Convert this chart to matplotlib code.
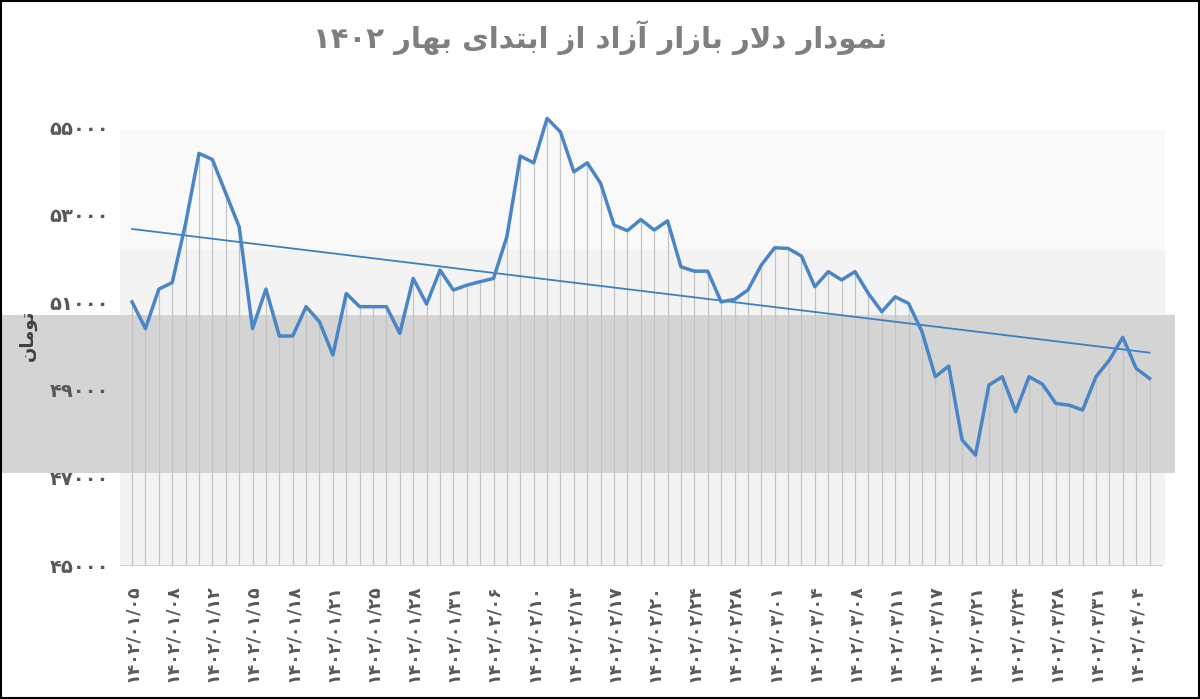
import numpy as np
import matplotlib
matplotlib.use("Agg")
import matplotlib.pyplot as plt
from matplotlib.patches import Rectangle

plt.rcParams['font.family'] = ['DejaVu Sans', 'Noto Sans']

values = [51010, 50400, 51300, 51450, 52800, 54400, 54260, 53490, 52725, 50400,
          51300, 50230, 50230, 50900, 50555, 49795, 51200, 50900, 50900, 50900,
          50290, 51545, 50960, 51735, 51280, 51390, 51470, 51545, 52500, 54340,
          54185, 55200, 54890, 53980, 54185, 53715, 52765, 52635, 52890, 52650,
          52860, 51810, 51710, 51710, 51010, 51065, 51280, 51850, 52245, 52230,
          52055, 51355, 51700, 51510, 51700, 51200, 50785, 51125, 50975, 50330,
          49300, 49545, 47855, 47510, 49110, 49300, 48500, 49300, 49130, 48690,
          48650, 48540, 49300, 49680, 50200, 49490, 49260]
# tick labels (every third point)
tick_labels = ["۱۴۰۲/۰۱/۰۵", "۱۴۰۲/۰۱/۰۸", "۱۴۰۲/۰۱/۱۲", "۱۴۰۲/۰۱/۱۵", "۱۴۰۲/۰۱/۱۸",
               "۱۴۰۲/۰۱/۲۱", "۱۴۰۲/۰۱/۲۵", "۱۴۰۲/۰۱/۲۸", "۱۴۰۲/۰۱/۳۱", "۱۴۰۲/۰۲/۰۶",
               "۱۴۰۲/۰۲/۱۰", "۱۴۰۲/۰۲/۱۳", "۱۴۰۲/۰۲/۱۷", "۱۴۰۲/۰۲/۲۰", "۱۴۰۲/۰۲/۲۴",
               "۱۴۰۲/۰۲/۲۸", "۱۴۰۲/۰۳/۰۱", "۱۴۰۲/۰۳/۰۴", "۱۴۰۲/۰۳/۰۸", "۱۴۰۲/۰۳/۱۱",
               "۱۴۰۲/۰۳/۱۷", "۱۴۰۲/۰۳/۲۱", "۱۴۰۲/۰۳/۲۴", "۱۴۰۲/۰۳/۲۸", "۱۴۰۲/۰۳/۳۱",
               "۱۴۰۲/۰۴/۰۴"]
yticks = [45000, 47000, 49000, 51000, 53000, 55000]
ytick_labels = ["۴۵۰۰۰", "۴۷۰۰۰", "۴۹۰۰۰", "۵۱۰۰۰", "۵۳۰۰۰", "۵۵۰۰۰"]
title_text = "نمودار دلار بازار آزاد از ابتدای بهار ۱۴۰۲"
ylabel_text = "تومان"

# --- minimal Persian shaping for display ---
FORMS = {  # iso, fin, ini, med
    'ا': (0xFE8D, 0xFE8E, None, None), 'آ': (0xFE81, 0xFE82, None, None),
    'ب': (0xFE8F, 0xFE90, 0xFE91, 0xFE92), 'ت': (0xFE95, 0xFE96, 0xFE97, 0xFE98),
    'د': (0xFEA9, 0xFEAA, None, None), 'ر': (0xFEAD, 0xFEAE, None, None),
    'ز': (0xFEAF, 0xFEB0, None, None), 'ل': (0xFEDD, 0xFEDE, 0xFEDF, 0xFEE0),
    'م': (0xFEE1, 0xFEE2, 0xFEE3, 0xFEE4), 'ن': (0xFEE5, 0xFEE6, 0xFEE7, 0xFEE8),
    'ه': (0xFEE9, 0xFEEA, 0xFEEB, 0xFEEC), 'و': (0xFEED, 0xFEEE, None, None),
    'ی': (0xFBFC, 0xFBFD, 0xFBFE, 0xFBFF),
}

def shape_word(w):
    out = []
    chars = list(w)
    i = 0
    prev_joins = False
    while i < len(chars):
        c = chars[i]
        if c not in FORMS:
            out.append(c); prev_joins = False; i += 1; continue
        if c == 'ل' and i + 1 < len(chars) and chars[i + 1] == 'ا':
            out.append(chr(0xFEFC if prev_joins else 0xFEFB))
            prev_joins = False; i += 2; continue
        nxt = chars[i + 1] if i + 1 < len(chars) else None
        next_ok = nxt in FORMS and FORMS[c][2] is not None
        iso, fin, ini, med = FORMS[c]
        if prev_joins and next_ok:
            out.append(chr(med))
        elif prev_joins:
            out.append(chr(fin))
        elif next_ok:
            out.append(chr(ini))
        else:
            out.append(chr(iso))
        prev_joins = FORMS[c][2] is not None
        i += 1
    return ''.join(out)

def rtl(s):
    words = s.split(' ')
    disp = []
    for w in words:
        if all('۰' <= ch <= '۹' for ch in w):
            disp.append(w)
        else:
            disp.append(shape_word(w)[::-1])
    return ' '.join(disp[::-1])

W, H = 1200, 699
fig = plt.figure(figsize=(W / 100, H / 100), dpi=100)
fig.patch.set_facecolor('white')

# background axes for shading and watermark band
bg = fig.add_axes([0, 0, 1, 1])
bg.set_xlim(0, W); bg.set_ylim(H, 0); bg.axis('off')
bg.add_patch(Rectangle((120, 130), 1045, 435, facecolor='#f3f3f3', edgecolor='none'))
bg.add_patch(Rectangle((120, 130), 1045, 120, facecolor='#f9f9f9', edgecolor='none'))
bg.add_patch(Rectangle((0, 315), 1175, 158, facecolor='#d4d4d4', edgecolor='none'))
bg.add_patch(Rectangle((0.5, 0.5), W - 1.5, H - 1.5, facecolor='none', edgecolor='black', lw=1.5))

ax = fig.add_axes([0.1, 1 - 565 / H, 0.868, (565 - 114) / H])
ax.set_zorder(2)
ax.set_facecolor('none')
x = np.arange(len(values))
ax.vlines(x, 45000, values, color='#c4c4c4', lw=0.9, zorder=1)
ax.plot(x, values, color='#4a86c5', lw=2.5, zorder=3, solid_joinstyle='round')
coef = np.polyfit(x, values, 1)
ax.plot(x, np.polyval(coef, x), color='#3f7fc0', lw=1.3, zorder=2)

ax.set_xlim(-0.9, 76.9)
ax.set_ylim(45000, 55300)
ax.set_yticks(yticks)
ax.set_yticklabels(ytick_labels, fontsize=14, fontweight='bold', color='#595959')
ax.set_xticks(x[::3])
ax.set_xticklabels(tick_labels, rotation=90, fontsize=12.5, fontweight='bold', color='#595959')
ax.tick_params(axis='y', length=0, pad=8)
ax.tick_params(axis='x', length=0, pad=14)
for s in ['top', 'right', 'left']:
    ax.spines[s].set_visible(False)
ax.spines['bottom'].set_color('#d0d0d0')

fig.text(0.5, 1 - 38 / H, rtl(title_text), ha='center', va='center', fontsize=21,
         fontweight='bold', color='#7f7f7f')
fig.text(28 / W, 1 - 335 / H, rtl(ylabel_text), rotation=90, ha='center', va='center',
         fontsize=13, fontweight='bold', color='#404040')

fig.savefig('out.png', dpi=100)
